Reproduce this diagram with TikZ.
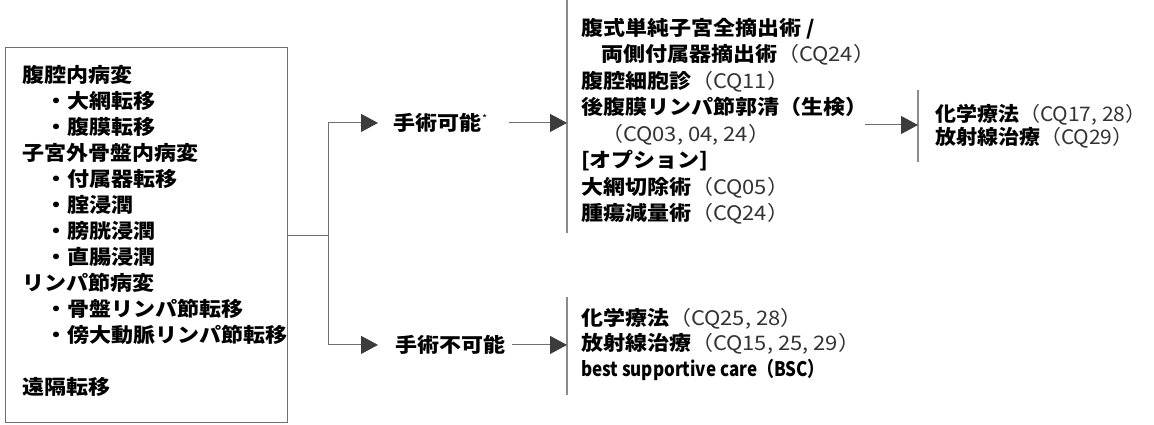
\documentclass[tikz,border=0pt]{standalone}
\usepackage{fontspec}
\setmainfont{Noto Sans CJK JP}
\usetikzlibrary{arrows.meta,calc}
\definecolor{linegray}{HTML}{707070}
\definecolor{bargray}{HTML}{8A8A8A}
\definecolor{tipgray}{HTML}{3C3C3C}
\definecolor{cqgray}{HTML}{333333}
\newcommand\cqt[1]{{\mdseries\color{cqgray}#1}}
\begin{document}
\begin{tikzpicture}[x=1pt,y=1pt,
  txt/.style={anchor=base west, inner sep=0pt, outer sep=0pt,
    font=\fontsize{20}{26}\selectfont\bfseries, xscale=1.1},
  frame/.style={draw=linegray, line width=1pt},
  conn/.style={draw=linegray, line width=1pt},
  arr/.style={conn, -{Triangle[length=17pt,width=18pt,color=tipgray]}},
  bar/.style={draw=bargray, line width=1.5pt}]
\useasboundingbox (0,0) rectangle (1154,-425);

% left box
\node[frame, minimum width=282, minimum height=374, inner sep=0pt] (box) at (146,-235) {};
\node[txt] (l1)  at (23,-82.6)  {腹腔内病変};
\node[txt] (l2)  at (45,-108.6) {・大網転移};
\node[txt] (l3)  at (45,-134.6) {・腹膜転移};
\node[txt] (l4)  at (23,-160.6) {子宮外骨盤内病変};
\node[txt] (l5)  at (45,-186.6) {・付属器転移};
\node[txt] (l6)  at (45,-212.6) {・腟浸潤};
\node[txt] (l7)  at (45,-238.6) {・膀胱浸潤};
\node[txt] (l8)  at (45,-264.6) {・直腸浸潤};
\node[txt] (l9)  at (23,-290.6) {リンパ節病変};
\node[txt] (l10) at (45,-316.6) {・骨盤リンパ節転移};
\node[txt] (l11) at (45,-342.6) {・傍大動脈リンパ節転移};
\node[txt] (l12) at (23,-394.6) {遠隔転移};

% decision nodes
\node[txt] (op1) at (393,-130.6) {手術可能\hspace{1pt}\raisebox{8pt}{\fontsize{10}{10}\selectfont\mdseries *}};
\node[txt] (op2) at (395,-352.6) {手術不可能};

% bars
\coordinate (b1top) at (567,0);
\coordinate (b1bot) at (567,-233);
\coordinate (b2top) at (567,-297);
\coordinate (b2bot) at (567,-395);
\coordinate (b3top) at (918,-90);
\coordinate (b3bot) at (918,-162);
\draw[bar] (b1top) -- (b1bot);
\draw[bar] (b2top) -- (b2bot);
\draw[bar] (b3top) -- (b3bot);

% operable column
\node[txt] (r1) at (581,-35.6)  {腹式単純子宮全摘出術 /};
\node[txt] (r2) at (601,-62)    {両側付属器摘出術\cqt{（CQ24）}};
\node[txt] (r3) at (581,-88.4)  {腹腔細胞診\cqt{（CQ11）}};
\node[txt] (r4) at (581,-114.8) {後腹膜リンパ節郭清（生検）};
\node[txt] (r5) at (601,-141.2) {\cqt{（CQ03, 04, 24）}};
\node[txt] (r6) at (581,-167.6) {[オプション]};
\node[txt] (r7) at (581,-194)   {大網切除術\cqt{（CQ05）}};
\node[txt] (r8) at (581,-220.4) {腫瘍減量術\cqt{（CQ24）}};

% post-op
\node[txt, xscale=1.05/1.1] (p1) at (935,-121.6) {化学療法\cqt{（CQ17, 28）}};
\node[txt, xscale=1.05/1.1] (p2) at (935,-144.6) {放射線治療\cqt{（CQ29）}};

% inoperable column
\node[txt] (n1) at (581,-325.6) {化学療法\cqt{（CQ25, 28）}};
\node[txt] (n2) at (581,-350.6) {放射線治療\cqt{（CQ15, 25, 29）}};
\node[txt, xscale=0.85/1.1] (n3) at (581,-376.6) {best supportive care（BSC）};

% connectors
\coordinate (split) at (328,-235);
\draw[conn] (box.east) -- (split);
\draw[arr, shorten >=15pt] (split) |- (op1.west);
\draw[arr, shorten >=17pt] (split) |- (op2.west);
\draw[arr] ([xshift=22pt]op1.east) -- (op1.east -| b1top);
\draw[arr] ([xshift=7pt]op2.east) -- (op2.east -| b2top);
\coordinate (surgout) at (865,-125);
\coordinate (b3mid) at (918,-125);
\draw[arr] (surgout) -- (b3mid);
\end{tikzpicture}
\end{document}
